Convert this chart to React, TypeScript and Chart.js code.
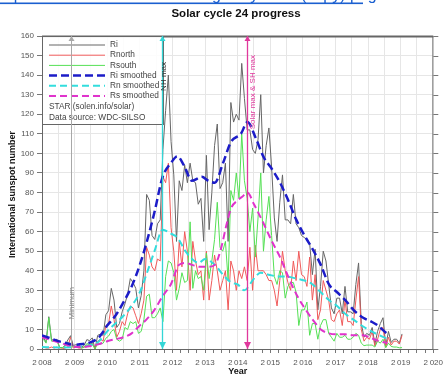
import React, { useEffect, useRef } from 'react';
import { Chart, registerables } from 'chart.js';
Chart.register(...registerables);

const START_YEAR = 2008;

// Monthly values Jan 2008 .. Jan 2019
const ri = [
  6.0, 3.4, 16.5, 4.8, 4.5, 5.0, 0.8, 0.6, 1.9, 4.6, 6.8, 1.8,
  2.2, 2.0, 1.0, 1.8, 4.8, 4.3, 5.7, 0.0, 7.0, 7.6, 7.0, 17.5,
  19.6, 31.0, 25.0, 11.0, 13.0, 19.0, 23.0, 28.0, 36.0, 34.0, 31.0, 21.0,
  27.3, 40.0, 79.0, 76.0, 58.0, 56.0, 64.0, 66.0, 102.0, 122.0, 140.0, 106.0,
  89, 55, 86, 81, 94, 85, 95, 86, 85, 74, 77, 55,
  99, 61, 80, 104, 115, 82, 85, 95, 55, 126, 116, 120,
  117, 146, 128, 112, 112, 102, 100, 107, 130, 90, 104, 113,
  93, 67, 55, 75, 89, 66, 66, 64, 79, 64, 62, 58,
  57, 56, 54, 38, 51, 20, 32, 50, 45, 33, 21, 18,
  26, 26, 18, 32, 19, 19, 18, 33, 44, 13, 6, 8,
  7, 11, 2.5, 9, 13, 16, 1.6, 9, 3.3, 5, 5, 3,
  7.7,
];
const rNorth = [
  1, 0.5, 0.5, 1, 0.5, 1, 0, 0, 0.5, 1, 6, 0.5,
  1, 0.5, 0.5, 1, 2, 2, 3, 0, 4, 5, 4, 12,
  13, 22, 15, 6, 9, 14, 12, 18, 22, 21, 17, 13,
  18, 25, 52, 48, 42, 40, 46, 45, 88, 85, 95, 62,
  50, 30, 55, 42, 60, 50, 30, 55, 45, 38, 40, 25,
  50, 25, 35, 48, 40, 30, 35, 40, 20, 45, 40, 30,
  40, 36, 42, 35, 52, 30, 53, 40, 40, 40, 38, 35,
  35, 30, 22, 35, 50, 40, 34, 30, 45, 35, 50, 38,
  37, 32, 47, 25, 38, 15, 20, 35, 30, 25, 15, 14,
  18, 20, 12, 25, 14, 14, 12, 25, 37, 10, 4, 6,
  5, 9, 1.5, 5, 10, 11, 1, 6, 2, 4, 4, 2.5,
  7,
];
const rSouth = [
  5, 3, 16, 4, 4, 4, 0.8, 0.6, 1.4, 3.6, 0.8, 1.3,
  1.2, 1.5, 0.5, 0.8, 2.8, 2.3, 2.7, 0, 3, 2.6, 3, 5.5,
  6.6, 9, 10, 5, 4, 5, 11, 10, 14, 13, 14, 8,
  9, 15, 27, 28, 16, 16, 18, 21, 14, 37, 45, 44,
  39, 25, 31, 39, 34, 35, 65, 31, 40, 36, 37, 30,
  49, 36, 45, 56, 75, 52, 50, 55, 35, 81, 76, 90,
  77, 110, 86, 77, 60, 72, 47, 67, 90, 50, 66, 78,
  58, 37, 33, 40, 39, 26, 32, 34, 34, 29, 12, 20,
  20, 24, 7, 13, 13, 5, 12, 15, 15, 8, 6, 4,
  8, 6, 6, 7, 5, 5, 6, 8, 7, 3, 1.7, 2,
  2, 2, 1, 4, 3, 5, 0.6, 3, 1.3, 1, 1, 0.6,
  0.7,
];

// Smoothed series (year, value)
const riSmoothYears = [2008.0, 2008.25, 2008.5, 2008.75, 2008.95, 2009.25, 2009.5, 2009.75, 2010.0, 2010.25, 2010.5, 2010.75, 2011.0, 2011.2, 2011.45, 2011.7, 2011.95, 2012.15, 2012.35, 2012.6, 2012.9, 2013.1, 2013.3, 2013.55, 2013.8, 2014.1, 2014.3, 2014.55, 2014.8, 2015.05, 2015.3, 2015.55, 2015.8, 2016.05, 2016.3, 2016.55, 2016.8, 2017.05, 2017.3, 2017.55, 2017.85, 2018.1, 2018.3, 2018.5, 2018.65];
const riSmooth = [7, 5.5, 4, 3, 2.2, 2.5, 3.5, 6, 12, 17, 24, 32, 43, 54, 70, 88, 95, 98.5, 94, 86, 88, 86, 85, 95, 106, 110, 116, 108, 98, 92, 85, 76, 66, 58, 51, 43, 33, 29, 25, 20, 16, 14, 12, 9, 7];

const rnSmoothYears = [2008.0, 2008.5, 2009.0, 2009.5, 2009.75, 2010.0, 2010.25, 2010.5, 2010.75, 2011.0, 2011.2, 2011.45, 2011.7, 2011.95, 2012.15, 2012.4, 2012.6, 2012.8, 2013.0, 2013.3, 2013.55, 2013.8, 2014.0, 2014.2, 2014.5, 2014.7, 2014.95, 2015.25, 2015.5, 2015.8, 2016.05, 2016.3, 2016.55, 2016.8, 2017.05, 2017.3, 2017.55, 2017.85, 2018.1, 2018.35, 2018.6];
const rnSmooth = [1, 0.8, 1, 2, 4, 9, 13, 17, 22, 29, 38, 50, 61, 59, 57, 50, 46, 44, 46, 43, 38, 34, 33, 30, 36, 39, 38, 37, 37, 36, 35, 33, 29, 25, 22, 18, 15, 11.5, 9, 7, 5];

const rsSmoothYears = [2008.0, 2008.3, 2008.6, 2008.9, 2009.2, 2009.5, 2009.75, 2010.0, 2010.25, 2010.5, 2010.75, 2011.0, 2011.2, 2011.45, 2011.7, 2011.95, 2012.2, 2012.4, 2012.6, 2012.85, 2013.1, 2013.3, 2013.5, 2013.65, 2013.8, 2014.0, 2014.15, 2014.3, 2014.5, 2014.8, 2015.05, 2015.3, 2015.55, 2015.8, 2016.05, 2016.3, 2016.55, 2016.8, 2017.05, 2017.3, 2017.55, 2017.85, 2018.1, 2018.35, 2018.6];
const rsSmooth = [6, 4.5, 3, 1.5, 1, 1.5, 2.5, 4, 5, 6, 8, 12, 15, 20, 27, 33, 43, 44, 43, 42, 42, 43, 52, 63, 72, 76, 78, 80, 74, 64, 55, 47, 37, 28, 21, 15, 10, 8, 7.5, 7.5, 7, 7, 5.5, 4, 3];

const xTickYears = [2008, 2009, 2010, 2011, 2012, 2013, 2014, 2015, 2016, 2017, 2018, 2019, 2020];
const xTickLabels = ['2\u2009008', '2\u2009009', '2\u2009010', '2\u2009011', '2\u2009012', '2\u2009013', '2\u2009014', '2\u2009015', '2\u2009016', '2\u2009017', '2\u2009018', '2\u2009019', '2\u2009020'];

const eventYears = [2008.9, 2011.67, 2014.29];
const eventLabels = ['Minimum', 'NH max', 'Solar max & SH max'];
const eventColors = ['#a8a8a8', '#33d6d6', '#e0389c'];
const eventTextColors = ['#888888', '#333333', '#e0389c'];
const eventTextTops = [287, 62, 55];
const eventTextOffsets = [0, 1, 5];

const creditLines = ['STAR (solen.info/solar)', 'Data source: WDC-SILSO'];

const FONT = '"Liberation Sans", Arial, sans-serif';

const monthly = (arr: number[]) => arr.map((v, i) => ({ x: START_YEAR + (i + 0.5) / 12, y: v }));
const paired = (xs: number[], ys: number[]) => ys.map((v, i) => ({ x: xs[i], y: v }));

const overlay = {
  id: 'overlay',
  afterDatasetsDraw(chart: any) {
    const { ctx, chartArea: a, scales } = chart;
    const x = scales.x;
    ctx.save();
    ctx.strokeStyle = '#777';
    ctx.lineWidth = 1;
    ctx.beginPath();
    ctx.moveTo(a.right - 0.5, a.top);
    ctx.lineTo(a.right - 0.5, a.bottom);
    ctx.stroke();
    ctx.strokeStyle = '#666';
    ctx.lineWidth = 2;
    ctx.beginPath();
    ctx.moveTo(a.left, a.top + 0.5);
    ctx.lineTo(a.right, a.top + 0.5);
    ctx.stroke();
    ctx.lineWidth = 1;
    ctx.strokeStyle = '#777';
    for (let v = 0; v <= 160; v += 10) {
      const py = Math.round(scales.y.getPixelForValue(v)) + 0.5;
      ctx.beginPath();
      ctx.moveTo(a.right, py);
      ctx.lineTo(a.right + 5, py);
      ctx.stroke();
    }
    // legend box
    const bx = a.left + 0.5, by = a.top + 0.5, bw = 121, bh = 88;
    ctx.fillStyle = 'rgba(255,255,255,0.88)';
    ctx.fillRect(bx, by, bw, bh);
    ctx.strokeStyle = '#666';
    ctx.lineWidth = 1;
    ctx.strokeRect(bx, by, bw, bh);
    ctx.font = `8.3px ${FONT}`;
    ctx.textBaseline = 'middle';
    ctx.textAlign = 'left';
    chart.data.datasets.forEach((ds: any, i: number) => {
      const ly = a.top + 9 + i * 10.2;
      ctx.save();
      ctx.strokeStyle = ds.borderColor;
      ctx.lineWidth = ds.borderWidth;
      ctx.setLineDash(ds.borderDash || []);
      ctx.beginPath();
      ctx.moveTo(a.left + 7, ly);
      ctx.lineTo(a.left + 63, ly);
      ctx.stroke();
      ctx.restore();
      ctx.fillStyle = '#444';
      ctx.fillText(ds.label, a.left + 68, ly);
    });
    creditLines.forEach((t, i) => {
      ctx.fillStyle = '#444';
      ctx.fillText(t, a.left + 7, a.top + 71 + i * 10.3);
    });
    // event lines
    eventYears.forEach((yr, i) => {
      const px = Math.round(x.getPixelForValue(yr)) + 0.5;
      ctx.strokeStyle = eventColors[i];
      ctx.lineWidth = i === 0 ? 1 : 1.3;
      ctx.beginPath();
      ctx.moveTo(px, a.top);
      ctx.lineTo(px, a.bottom);
      ctx.stroke();
      ctx.fillStyle = eventColors[i];
      ctx.beginPath();
      ctx.moveTo(px - 3, a.top + 5);
      ctx.lineTo(px + 3, a.top + 5);
      ctx.lineTo(px, a.top);
      ctx.closePath();
      ctx.fill();
      if (i > 0) {
        ctx.beginPath();
        ctx.moveTo(px - 3.5, a.bottom - 7);
        ctx.lineTo(px + 3.5, a.bottom - 7);
        ctx.lineTo(px, a.bottom);
        ctx.closePath();
        ctx.fill();
      }
      ctx.save();
      ctx.translate(px + eventTextOffsets[i], eventTextTops[i]);
      ctx.rotate(-Math.PI / 2);
      ctx.font = `8px ${FONT}`;
      ctx.textAlign = 'right';
      ctx.textBaseline = 'middle';
      ctx.fillStyle = eventTextColors[i];
      ctx.fillText(eventLabels[i], 0, 0);
      ctx.restore();
    });
    ctx.restore();
  },
  afterDraw(chart: any) {
    const { ctx, chartArea: a } = chart;
    ctx.save();
    ctx.fillStyle = '#1a5fd0';
    ctx.font = `16px ${FONT}`;
    ctx.textAlign = 'left';
    ctx.textBaseline = 'alphabetic';
    ctx.fillText('http://www.solen.info/solar/images/cycle24 (copy).png', -4, 0);
    ctx.fillRect(0, 2.5, 363, 1.6);
    ctx.fillStyle = '#111';
    ctx.font = `bold 11.5px ${FONT}`;
    ctx.textAlign = 'center';
    ctx.textBaseline = 'middle';
    ctx.fillText('Solar cycle 24 progress', 236, 14);
    ctx.font = `bold 9px ${FONT}`;
    ctx.fillText('Year', (a.left + a.right) / 2, 372);
    ctx.save();
    ctx.translate(13, (a.top + a.bottom) / 2 + 2);
    ctx.rotate(-Math.PI / 2);
    ctx.fillText('International sunspot number', 0, 0);
    ctx.restore();
    ctx.restore();
  },
};

export default function App() {
  const ref = useRef<HTMLCanvasElement | null>(null);
  useEffect(() => {
    document.body.style.margin = '0';
    const canvas = ref.current;
    if (!canvas) return;
    const chart = new Chart(canvas, {
      type: 'line',
      data: {
        datasets: [
          { label: 'Ri', data: monthly(ri), borderColor: '#666666', borderWidth: 1, pointRadius: 0, order: 5, tension: 0 },
          { label: 'Rnorth', data: monthly(rNorth), borderColor: '#f05a5a', borderWidth: 1, pointRadius: 0, order: 4, tension: 0 },
          { label: 'Rsouth', data: monthly(rSouth), borderColor: '#55e055', borderWidth: 1, pointRadius: 0, order: 3, tension: 0 },
          { label: 'Ri smoothed', data: paired(riSmoothYears, riSmooth), borderColor: '#1c1cc8', borderWidth: 2.5, borderDash: [8, 4], pointRadius: 0, order: 0, tension: 0.4, cubicInterpolationMode: 'monotone' },
          { label: 'Rn smoothed', data: paired(rnSmoothYears, rnSmooth), borderColor: '#33dddd', borderWidth: 2, borderDash: [7, 4], pointRadius: 0, order: 2, tension: 0.4, cubicInterpolationMode: 'monotone' },
          { label: 'Rs smoothed', data: paired(rsSmoothYears, rsSmooth), borderColor: '#e033cc', borderWidth: 2, borderDash: [7, 4], pointRadius: 0, order: 1, tension: 0.4, cubicInterpolationMode: 'monotone' },
        ],
      },
      options: {
        animation: false,
        responsive: false,
        layout: { padding: { left: 0, right: 7, top: 36, bottom: 0 } },
        plugins: { legend: { display: false }, tooltip: { enabled: false }, title: { display: false } },
        scales: {
          x: {
            type: 'linear',
            min: 2008,
            max: 2020,
            afterFit: (s: any) => { s.height = 27; },
            ticks: {
              stepSize: 0.25,
              autoSkip: false,
              maxRotation: 0,
              minRotation: 0,
              padding: 5,
              color: '#555',
              font: { size: 8, family: FONT },
              callback: (v: any) => {
                const idx = xTickYears.indexOf(Number(v));
                return idx >= 0 ? xTickLabels[idx] : '';
              },
            },
            grid: {
              color: (c: any) => (c.tick && Math.abs(c.tick.value * 2 - Math.round(c.tick.value * 2)) < 1e-6 ? '#e6e6e6' : 'rgba(0,0,0,0)'),
              tickColor: '#777',
              tickLength: 4,
            },
            border: { color: '#666', width: 1 },
          },
          y: {
            min: 0,
            max: 160,
            afterFit: (s: any) => { s.width = 42; },
            ticks: { stepSize: 10, padding: 3, color: '#555', font: { size: 8, family: FONT } },
            grid: { color: '#e6e6e6', tickColor: '#777', tickLength: 5 },
            border: { color: '#666', width: 1 },
          },
        },
      },
      plugins: [overlay],
    } as any);
    return () => chart.destroy();
  }, []);
  return <canvas ref={ref} width={448} height={376} style={{ display: 'block', width: 448, height: 376 }} />;
}
